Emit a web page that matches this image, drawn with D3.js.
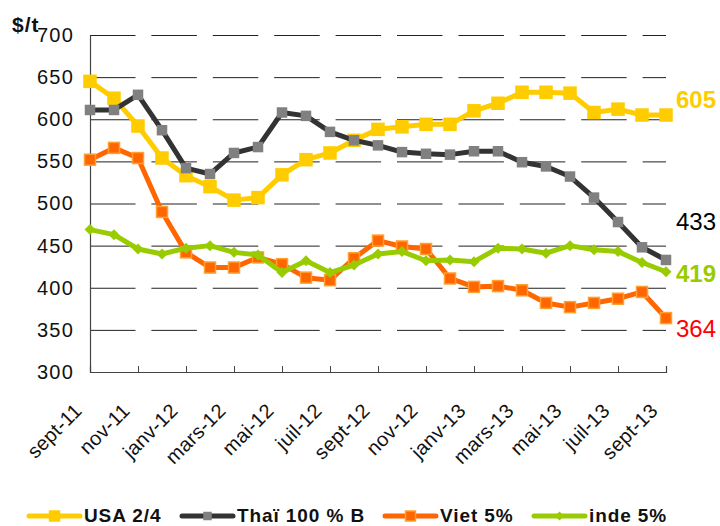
<!DOCTYPE html>
<html>
<head>
<meta charset="utf-8">
<script src="https://cdn.jsdelivr.net/npm/d3@7"></script>
<style>
  html, body { margin: 0; padding: 0; background: #ffffff; }
  svg { display: block; font-family: "Liberation Sans", Arial, sans-serif; }
</style>
</head>
<body>
<svg id="chart" width="720" height="526"></svg>
<script>
// ---- Data ----
const months = ["sept-11","oct-11","nov-11","déc-11","janv-12","févr-12","mars-12","avr-12","mai-12","juin-12","juil-12","août-12",
  "sept-12","oct-12","nov-12","déc-12","janv-13","févr-13","mars-13","avr-13","mai-13","juin-13","juil-13","août-13","sept-13"];
const tickLabels = ["sept-11","nov-11","janv-12","mars-12","mai-12","juil-12","sept-12","nov-12","janv-13","mars-13","mai-13","juil-13","sept-13"];
const yTicks = [300,350,400,450,500,550,600,650,700];

const usa   = [645,625,592,554,533,520,504,507,534,552,560,575,588,591,594,594,610,619,632,632,631,608,612,605,605];
const thai  = [611,611,629,587,542,535,560,567,608,604,585,575,569,561,559,558,562,562,549,544,532,507,478,448,433];
const viet  = [552,566,554,490,442,424,424,436,428,412,409,435,456,449,446,411,401,402,397,382,377,382,387,395,364];
const inde  = [469,463,446,440,447,450,442,439,418,432,418,427,440,443,432,433,431,447,446,441,450,445,443,430,419];

const seriesNames = ["USA 2/4","Thaï 100 % B","Viet 5%","inde 5%"];
const endLabels = ["605","433","364","419"];

// ---- Styles ----
const styles = [
  {line:"#FFCC00", fill:"#FFCC00", stroke:"#FFCC00", shape:"square", size:12, lw:5, label:"#FFCC00", bold:true, ly:108},
  {line:"#333333", fill:"#808080", stroke:"#808080", shape:"square", size:9,  lw:5, label:"#000000", bold:false, ly:230},
  {line:"#FF6600", fill:"#FF6600", stroke:"#FFA030", shape:"square", size:11, lw:5, label:"#FF0000", bold:false, ly:337},
  {line:"#99CC00", fill:"#99CC00", stroke:"#99CC00", shape:"diamond",size:9,  lw:5, label:"#99CC00", bold:true, ly:282}
];
const data = [usa, thai, viet, inde];

const svg = d3.select("#chart");
const L = 90, R = 666, T = 35, B = 372;

const x = d3.scalePoint().domain(months).range([L, R]).padding(0);
const y = d3.scaleLinear().domain([300, 700]).range([B, T]);

// Gridlines
const grid = svg.append("g").attr("transform", `translate(${L},0)`)
  .call(d3.axisLeft(y).tickValues(yTicks.filter(v => v > 300)).tickSize(-(R - L)).tickFormat(""));
grid.select(".domain").remove();
grid.selectAll("line").attr("stroke", "#222").attr("stroke-width", 1).attr("stroke-dasharray", "45.5,15.9");

// Y axis
const yAxis = svg.append("g").attr("transform", `translate(${L},0)`)
  .call(d3.axisLeft(y).tickValues(yTicks).tickSize(0).tickPadding(16));
yAxis.select(".domain").attr("stroke", "#444").attr("stroke-width", 1.2);
yAxis.selectAll("text").attr("font-size", "20px").attr("fill", "#111")
  .attr("font-family", "'Liberation Sans', Arial, sans-serif")
  .style("letter-spacing", "1.2px");

// X axis
const xAxis = svg.append("g").attr("transform", `translate(0,${B})`)
  .call(d3.axisBottom(x).tickValues(tickLabels).tickSize(-6).tickFormat(""));
xAxis.select(".domain").attr("stroke", "#444").attr("stroke-width", 1.2);
xAxis.selectAll("line").attr("stroke", "#444");

svg.append("g").selectAll("text").data(tickLabels).join("text")
  .attr("transform", d => `translate(${x(d) - 7},${412}) rotate(-45)`)
  .attr("text-anchor", "end")
  .attr("font-size", "20px").attr("fill", "#111")
  .style("letter-spacing", "0.3px")
  .text(d => d);

// Unit label
svg.append("text").attr("x", 12).attr("y", 32).attr("font-size", "21px").attr("font-weight", "bold")
  .attr("fill", "#111").style("letter-spacing", "1px").text("$/t");

// Series
const line = d3.line().x((d, i) => x(months[i])).y(d => y(d));
function marker(g, s, cx, cy) {
  if (s.shape === "square") {
    g.append("rect").attr("x", cx - s.size/2).attr("y", cy - s.size/2)
      .attr("width", s.size).attr("height", s.size)
      .attr("fill", s.fill).attr("stroke", s.stroke).attr("stroke-width", 1.5);
  } else {
    const h = s.size / 2 + 1;
    g.append("path").attr("d", `M${cx},${cy-h}L${cx+h},${cy}L${cx},${cy+h}L${cx-h},${cy}Z`)
      .attr("fill", s.fill);
  }
}
data.forEach((vals, k) => {
  const s = styles[k];
  const g = svg.append("g");
  g.append("path").datum(vals).attr("d", line).attr("fill", "none")
    .attr("stroke", s.line).attr("stroke-width", s.lw).attr("stroke-linejoin", "round");
  vals.forEach((v, i) => marker(g, s, x(months[i]), y(v)));
});

// End labels
styles.forEach((s, k) => {
  svg.append("text").attr("x", 676).attr("y", s.ly).attr("font-size", "24px")
    .attr("font-weight", s.bold ? "bold" : "normal").attr("fill", s.label).text(endLabels[k]);
});

// Legend
const legX = [29, 182, 385, 534];
const legend = svg.append("g");
seriesNames.forEach((n, k) => {
  const s = styles[k];
  const g = legend.append("g");
  g.append("line").attr("x1", legX[k]).attr("x2", legX[k] + 51).attr("y1", 516).attr("y2", 516)
    .attr("stroke", s.line).attr("stroke-width", 5).attr("stroke-linecap", "round");
  const ms = Object.assign({}, s, {size: k === 0 ? 10 : (k === 1 ? 7 : (k === 2 ? 10 : 7))});
  marker(g, ms, legX[k] + 25.5, 516);
  g.append("text").attr("x", legX[k] + 55).attr("y", 522).attr("font-size", "19px").attr("font-weight", "bold")
    .attr("fill", "#111").style("letter-spacing", "0.9px").text(n);
});
</script>
</body>
</html>
